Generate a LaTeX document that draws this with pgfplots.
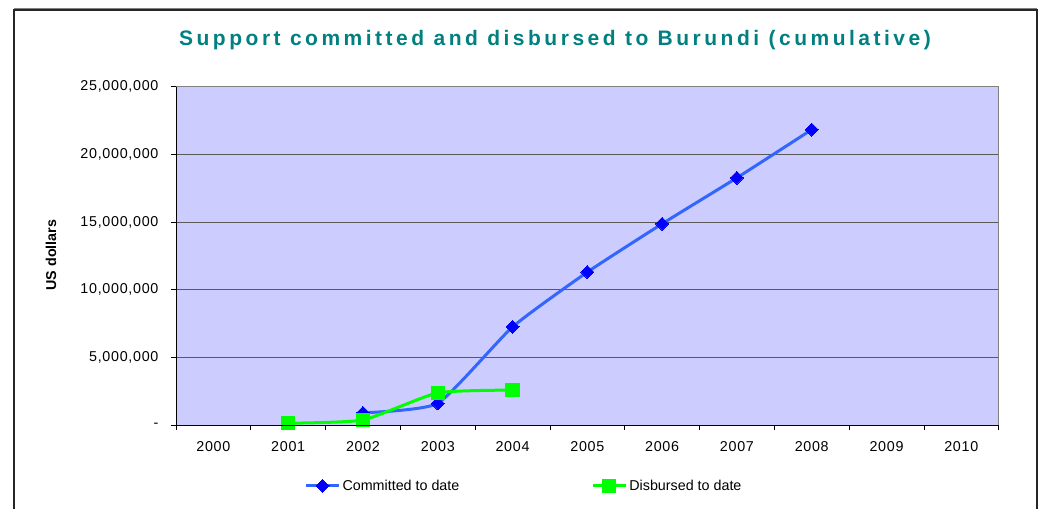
\documentclass[border=0pt]{standalone}
\usepackage{fontspec}
\setmainfont{Liberation Sans}
\newfontfamily\titlefont[LetterSpace=16.7]{Liberation Sans}
\newfontfamily\tickfont[LetterSpace=5]{Liberation Sans}
\usepackage{pgfplots}
\pgfplotsset{compat=1.18}
\definecolor{plotbg}{HTML}{CCCCFF}
\definecolor{titlecol}{HTML}{008080}
\definecolor{commline}{HTML}{3366FF}
\definecolor{commmark}{HTML}{0000FF}
\definecolor{disb}{HTML}{00FF00}
\begin{document}
\begin{tikzpicture}[x=1pt,y=1pt]
\useasboundingbox (0,0) rectangle (1047,509);
\draw[line width=1.3pt, black!85] (14,0) -- (14,499) -- (1037,499) -- (1037,0);
\draw[line width=1pt, black!50] (14,500.5) -- (1037,500.5);
\node[anchor=base, text=titlecol, inner sep=0pt, font=\titlefont\bfseries\fontsize{21}{25}\selectfont] at (555,463) {Support committed and disbursed to Burundi (cumulative)};
\begin{axis}[
  at={(176pt,84pt)}, anchor=south west,
  width=822.7pt, height=338.3pt, scale only axis,
  xmin=-0.5, xmax=10.5, ymin=0, ymax=25000000,
  axis background/.style={fill=plotbg},
  axis line style={gray, line width=0.8pt},
  xtick={0,...,10},
  xticklabels={2000,2001,2002,2003,2004,2005,2006,2007,2008,2009,2010},
  minor xtick={-0.5,0.5,...,10.5},
  major x tick style={draw=none},
  minor x tick style={black, line width=0.8pt},
  minor tick length=5pt,
  ytick={0,5000000,10000000,15000000,20000000,25000000},
  yticklabels={{-},{5,000,000},{10,000,000},{15,000,000},{20,000,000},{25,000,000}},
  scaled y ticks=false,
  major y tick style={black, line width=0.8pt},
  major tick length=5pt,
  tick align=outside, tick pos=left,
  ymajorgrids, major grid style={black!65, line width=0.9pt},
  x tick label style={font=\tickfont\fontsize{14.3}{17}\selectfont, yshift=-8pt},
  y tick label style={font=\tickfont\fontsize{14.3}{17}\selectfont, xshift=-9pt},
  ylabel={US dollars},
  ylabel style={at={(axis description cs:-0.152,0.5025)}, anchor=center, font=\bfseries\fontsize{14.3}{17}\selectfont},
  legend columns=2,
  legend style={draw=none, fill=none, at={(axis description cs:0.156,-0.18)}, anchor=west,
    inner sep=0pt, font=\fontsize{14.3}{17}\selectfont,
    /tikz/every even column/.append style={column sep=130pt}},
  legend image code/.code={\draw[mark repeat=2,mark phase=2,#1] plot coordinates {(0pt,0pt) (16.5pt,0pt) (33pt,0pt)};},
  after end axis/.code={\draw[black, line width=0.8pt] (rel axis cs:0,1) -- (rel axis cs:0,0) -- (rel axis cs:1,0);},
  clip=false,
]
\addplot[commline, line width=3pt, smooth, tension=0.3, mark=square*, mark options={commmark, solid, rotate=45, mark size=4.6pt, line width=0pt}]
  coordinates {(2,900000) (3,1600000) (4,7250000) (5,11300000) (6,14870000) (7,18270000) (8,21830000)};
\addlegendentry{Committed to date}
\addplot[disb, line width=3pt, smooth, tension=0.3, mark=square*, mark options={disb, solid, mark size=6.6pt, line width=0pt}]
  coordinates {(1,130000) (2,370000) (3,2380000) (4,2580000)};
\addlegendentry{Disbursed to date}
\end{axis}
\end{tikzpicture}
\end{document}
